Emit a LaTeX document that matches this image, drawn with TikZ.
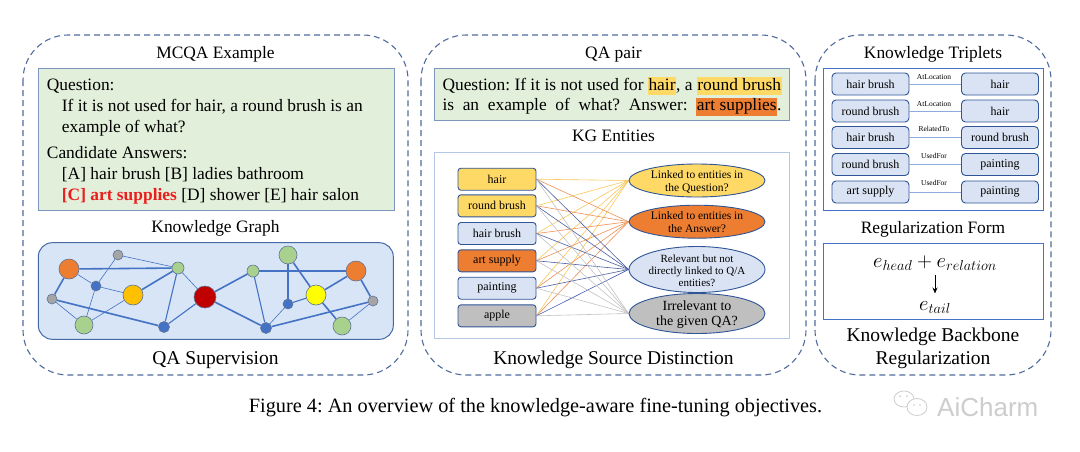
\documentclass[tikz,border=0pt]{standalone}
\usepackage{fontspec}
\setmainfont{Liberation Serif}
\newfontfamily\wmfont{Liberation Sans}
\usetikzlibrary{shapes.geometric,arrows.meta}
\definecolor{panelc}{RGB}{80,108,158}
\definecolor{gfill}{RGB}{226,239,218}
\definecolor{gbord}{RGB}{125,150,190}
\definecolor{kgfill}{RGB}{216,229,246}
\definecolor{kgbord}{RGB}{70,105,165}
\definecolor{kgedge}{RGB}{68,114,196}
\definecolor{nbord}{RGB}{95,115,150}
\definecolor{corange}{RGB}{237,125,49}
\definecolor{cgray}{RGB}{165,165,165}
\definecolor{cgreen}{RGB}{169,209,142}
\definecolor{cblue}{RGB}{68,114,196}
\definecolor{cgold}{RGB}{255,192,0}
\definecolor{cred}{RGB}{192,0,0}
\definecolor{cyellow}{RGB}{255,255,0}
\definecolor{egold}{RGB}{255,217,102}
\definecolor{elblue}{RGB}{218,227,243}
\definecolor{egray}{RGB}{191,191,191}
\definecolor{ebord}{RGB}{47,85,151}
\definecolor{framec}{RGB}{180,199,231}
\definecolor{tframe}{RGB}{68,114,196}
\definecolor{relc}{RGB}{143,170,220}
\definecolor{lq}{RGB}{250,200,90}
\definecolor{la}{RGB}{240,145,85}
\definecolor{lr}{RGB}{75,95,165}
\definecolor{li}{RGB}{195,195,195}
\definecolor{redtxt}{RGB}{235,30,30}
\definecolor{wmc}{RGB}{205,205,205}
\newcommand{\hlq}[2]{{\setlength{\fboxsep}{0.5pt}\colorbox{#1}{\rule[-4.5pt]{0pt}{17pt}#2}}}
\pgfdeclarelayer{back}
\pgfdeclarelayer{edges}
\pgfsetlayers{back,edges,main}
\begin{document}
\frenchspacing
\begin{tikzpicture}[x=1pt,y=-1pt,
  panel/.style={draw=panelc, dash pattern=on 6pt off 4pt, line width=1.1pt, rounded corners=45pt},
  body/.style={anchor=base west, inner sep=0pt, font=\fontsize{17.4}{21}\selectfont},
  ttl/.style={anchor=base, inner sep=0pt, font=\fontsize{17.4}{21}\selectfont},
  bigttl/.style={anchor=base, inner sep=0pt, font=\fontsize{19.5}{23}\selectfont},
  kgn/.style={circle, draw=nbord, line width=0.6pt, inner sep=0pt, minimum size=#1},
  kgthick/.style={draw=kgedge, line width=1.6pt},
  kgmid/.style={draw=kgedge, line width=1.1pt},
  kgthin/.style={draw=kgedge, line width=0.6pt},
  entity/.style={draw=ebord, rounded corners=3pt, line width=0.9pt, minimum width=78pt, minimum height=22pt, inner sep=0pt, font=\fontsize{12}{14}\selectfont},
  ell/.style={ellipse, draw=ebord, line width=0.9pt, minimum width=136pt, inner sep=0pt},
  elltxt/.style={align=center, inner sep=0pt},
  trip/.style={draw=ebord, fill=elblue, rounded corners=4pt, line width=0.9pt, minimum width=77pt, minimum height=22pt, inner sep=0pt, font=\fontsize{12}{14}\selectfont},
  rel/.style={anchor=base, inner sep=0pt, font=\fontsize{7.5}{9}\selectfont},
  relline/.style={draw=relc, line width=1pt}
]
\useasboundingbox (0,0) rectangle (1080,451);
\begin{pgfonlayer}{back}
\fill[white] (0,0) rectangle (1080,451);
\end{pgfonlayer}

% ---------- panels ----------
\draw[panel] (23,35) rectangle (408,375);
\draw[panel] (421,35) rectangle (806,375);
\draw[panel] (815,35) rectangle (1051,375);

% ---------- left panel ----------
\node[ttl] (lt) at (215.5,58.3) {MCQA Example};
\node[draw=gbord, fill=gfill, line width=1pt, minimum width=355.7pt, minimum height=141.7pt, inner sep=0pt] (gbox) at (216.2,139.2) {};
\node[body] (q1) at (46.7,90) {Question:};
\node[body] (q2) at (61.7,111) {If it is not used for hair, a round brush is an};
\node[body] (q3) at (61.7,132) {example of what?};
\node[body] (q4) at (46.7,158) {Candidate Answers:};
\node[body] (q5) at (61.7,179.3) {[A] hair brush [B] ladies bathroom};
\node[body] (q6) at (61.7,200.3) {\textcolor{redtxt}{\textbf{[C] art supplies}} [D] shower [E] hair salon};
\node[ttl] (kgt) at (215.5,232.7) {Knowledge Graph};
\begin{pgfonlayer}{back}
\draw[draw=kgbord, fill=kgfill, line width=1pt, rounded corners=14pt] (38.3,242.7) rectangle (393.3,339.3);
\end{pgfonlayer}
\node[bigttl] (qas) at (215.5,364) {QA Supervision};

% graph nodes
\node[kgn=20pt, fill=corange] (g1) at (69,269) {};
\node[kgn=10pt, fill=cgray] (g2) at (118,255) {};
\node[kgn=12pt, fill=cgreen] (g3) at (178,268) {};
\node[kgn=10pt, fill=cblue] (g4) at (96,286) {};
\node[kgn=20pt, fill=cgold] (g5) at (133,295) {};
\node[kgn=10pt, fill=cgray] (g6) at (52,299) {};
\node[kgn=18pt, fill=cgreen] (g7) at (84,325) {};
\node[kgn=11pt, fill=cblue] (g8) at (164,327) {};
\node[kgn=22pt, fill=cred] (g9) at (205,297) {};
\node[kgn=12pt, fill=cgreen] (g10) at (253,271) {};
\node[kgn=18pt, fill=cgreen] (g11) at (288,255) {};
\node[kgn=20pt, fill=corange] (g12) at (356,271) {};
\node[kgn=20pt, fill=cyellow] (g13) at (316,295) {};
\node[kgn=10pt, fill=cblue] (g14) at (288,304) {};
\node[kgn=10pt, fill=cgray] (g15) at (373,301) {};
\node[kgn=18pt, fill=cgreen] (g16) at (342,326) {};
\node[kgn=11pt, fill=cblue] (g17) at (266,328) {};
% graph edges
\begin{pgfonlayer}{edges}
\draw[kgthick] (g1) -- (g3);
\draw[kgthick] (g1) -- (g6);
\draw[kgthin] (g1) -- (g4);
\draw[kgthin] (g2) -- (g3);
\draw[kgthin] (g2) -- (g4);
\draw[kgthin] (g4) -- (g7);
\draw[kgthin] (g4) -- (g5);
\draw[kgthick] (g5) -- (g3);
\draw[kgthin] (g6) -- (g7);
\draw[kgthick] (g6) -- (g8);
\draw[kgthin] (g7) -- (g5);
\draw[kgmid] (g3) -- (g8);
\draw[kgthin] (g3) -- (g9);
\draw[kgmid] (g8) -- (g9);
\draw[kgthick] (g9) -- (g10);
\draw[kgthick] (g9) -- (g17);
\draw[kgthick] (g10) -- (g12);
\draw[kgmid] (g10) -- (g17);
\draw[kgmid] (g11) -- (g14);
\draw[kgthick] (g11) -- (g13);
\draw[kgthick] (g13) -- (g16);
\draw[kgthick] (g13) -- (g12);
\draw[kgthick] (g12) -- (g15);
\draw[kgmid] (g14) -- (g13);
\draw[kgthin] (g14) -- (g17);
\draw[kgthick] (g17) -- (g15);
\draw[kgthin] (g15) -- (g16);
\end{pgfonlayer}

% ---------- middle panel ----------
\node[ttl] (mt) at (613.5,58.3) {QA pair};
\node[draw=gbord, fill=gfill, line width=1pt, minimum width=355pt, minimum height=51.7pt, inner sep=0pt] (qabox) at (611.8,94.2) {};
\node[body] (qa1) at (442.3,90) {\makebox[339pt][s]{Question: If it is not used for \hlq{egold}{hair}, a \hlq{egold}{round brush}}};
\node[body] (qa2) at (442.3,110.5) {\makebox[339pt][s]{is an example of what? Answer: \hlq{corange}{art supplies}.}};
\node[ttl] (kge) at (613.5,141.7) {KG Entities};
\begin{pgfonlayer}{back}
\draw[draw=framec, fill=white, line width=1pt] (434.3,152.7) rectangle (789.3,338.3);
\end{pgfonlayer}
\node[bigttl] (ksd) at (613.5,364) {Knowledge Source Distinction};

\node[entity, fill=egold] (en1) at (497,179.2) {hair};
\node[entity, fill=egold] (en2) at (497,205.8) {round brush};
\node[entity, fill=elblue] (en3) at (497,233.5) {hair brush};
\node[entity, fill=corange] (en4) at (497,260.8) {art supply};
\node[entity, fill=elblue] (en5) at (497,288.2) {painting};
\node[entity, fill=egray] (en6) at (497,315.8) {apple};

\node[ell, fill=egold, minimum height=33pt] (E1) at (697,180.5) {};
\node[ell, fill=corange, minimum height=33pt] (E2) at (697,221.7) {};
\node[ell, fill=elblue, minimum height=46pt] (E3) at (697,269.5) {};
\node[ell, fill=egray, minimum height=40pt] (E4) at (697,313.5) {};

\begin{pgfonlayer}{edges}
\foreach \k/\c in {1/lq,2/la,3/lr,4/li}{
  \foreach \e in {1,...,6}{
    \draw[\c, line width=0.6pt] (en\e.east) -- (E\k.west);
  }
}
\end{pgfonlayer}
\node[elltxt, font=\fontsize{11.5}{13}\selectfont] (E1t) at (697,181.5) {Linked to entities in\\the Question?};
\node[elltxt, font=\fontsize{11.5}{13}\selectfont] (E2t) at (697,222.5) {Linked to entities in\\the Answer?};
\node[elltxt, font=\fontsize{11}{12}\selectfont] (E3t) at (697,270.5) {Relevant but not\\directly linked to Q/A\\entities?};
\node[elltxt, font=\fontsize{14}{15.5}\selectfont] (E4t) at (697,314.5) {Irrelevant to\\the given QA?};

% ---------- right panel ----------
\node[ttl] (rt) at (933,58.3) {Knowledge Triplets};
\begin{pgfonlayer}{back}
\draw[draw=tframe, fill=white, line width=1pt] (823.3,68.3) rectangle (1043.3,210);
\end{pgfonlayer}
\node[trip] (t1l) at (870.5,84) {hair brush};
\node[trip] (t1r) at (1000,84) {hair};
\node[trip] (t2l) at (870.5,111) {round brush};
\node[trip] (t2r) at (1000,111) {hair};
\node[trip] (t3l) at (870.5,137.5) {hair brush};
\node[trip] (t3r) at (1000,137.5) {round brush};
\node[trip] (t4l) at (870.5,164.5) {round brush};
\node[trip] (t4r) at (1000,164.5) {painting};
\node[trip] (t5l) at (870.5,192) {art supply};
\node[trip] (t5r) at (1000,192) {painting};
\draw[relline] (t1l) -- (t1r);
\draw[relline] (t2l) -- (t2r);
\draw[relline, line width=1.6pt] (t3l) -- (t3r);
\draw[relline] (t4l) -- (t4r);
\draw[relline] (t5l) -- (t5r);
\node[rel] (r1) at (934,79.3) {AtLocation};
\node[rel] (r2) at (934,106) {AtLocation};
\node[rel] (r3) at (934,131) {RelatedTo};
\node[rel] (r4) at (934,158) {UsedFor};
\node[rel] (r5) at (934,185.5) {UsedFor};

\node[ttl] (rft) at (933,233.3) {Regularization Form};
\draw[draw=tframe, line width=1pt] (823.3,243.3) rectangle (1043.3,319);
\node[anchor=base, inner sep=0pt, font=\fontsize{22.5}{24}\selectfont] (eh) at (935,267.5) {$e_{head}+e_{relation}$};
\node[anchor=base, inner sep=0pt, font=\fontsize{22.5}{24}\selectfont] (et) at (935,310) {$e_{tail}$};
\coordinate (ar1) at (935,274.5);
\coordinate (ar2) at (935,293.5);
\draw[-{Stealth[length=6pt,width=5pt]}, line width=1pt] (ar1) -- (ar2);
\node[bigttl] (kb1) at (933,341.7) {Knowledge Backbone};
\node[bigttl] (kb2) at (933,364) {Regularization};

% ---------- caption ----------
\node[anchor=base, inner sep=0pt, font=\fontsize{20.3}{24}\selectfont] (cap) at (535.5,412) {Figure 4: An overview of the knowledge-aware fine-tuning objectives.};

% ---------- watermark ----------
\draw[wmc, line width=0.8pt] (904,399) ellipse (10pt and 8pt);
\draw[wmc, line width=0.8pt, fill=white] (917,407) ellipse (10pt and 8.5pt);
\fill[wmc] (900,396) circle (1pt) (907,396) circle (1pt) (914,405) circle (0.9pt) (920,405) circle (0.9pt);
\node[anchor=base west, inner sep=0pt, text=wmc, font=\wmfont\fontsize{26}{30}\selectfont] (wm) at (937,416) {AiCharm};
\end{tikzpicture}
\end{document}
